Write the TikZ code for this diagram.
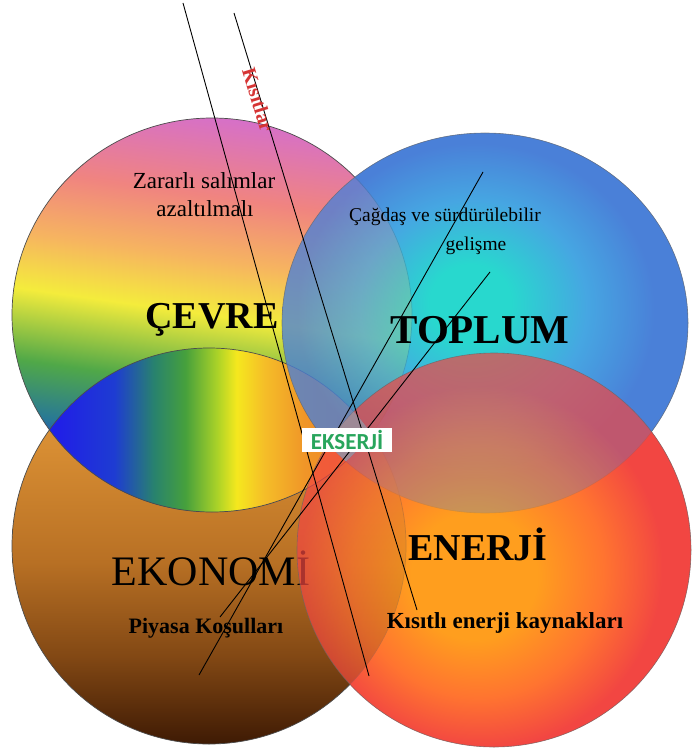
\documentclass[tikz,border=0pt]{standalone}
\usepackage{fontspec}
\setmainfont{Liberation Serif}
\newfontfamily\ekfont{Carlito}
\definecolor{cpink}{RGB}{214,112,200}
\definecolor{csalmon}{RGB}{240,132,128}
\definecolor{corange}{RGB}{246,180,96}
\definecolor{cyellow}{RGB}{244,236,60}
\definecolor{cgreen}{RGB}{80,168,72}
\definecolor{cteal}{RGB}{40,120,150}
\definecolor{cblue}{RGB}{32,40,224}
\definecolor{tcyan}{RGB}{40,216,206}
\definecolor{tmid}{RGB}{70,166,226}
\definecolor{tblue}{RGB}{74,128,216}
\definecolor{eorange}{RGB}{255,158,30}
\definecolor{emid}{RGB}{255,116,48}
\definecolor{ered}{RGB}{242,70,66}
\definecolor{kzero}{RGB}{232,162,74}
\definecolor{kone}{RGB}{214,140,50}
\definecolor{ktwo}{RGB}{184,112,36}
\definecolor{kthree}{RGB}{130,72,20}
\definecolor{kfour}{RGB}{62,26,4}
\definecolor{lblue}{RGB}{32,32,230}
\definecolor{lbluetwo}{RGB}{30,60,210}
\definecolor{lteal}{RGB}{40,130,110}
\definecolor{lgreen}{RGB}{70,160,60}
\definecolor{lyg}{RGB}{170,210,40}
\definecolor{lyellow}{RGB}{245,232,30}
\definecolor{lorgone}{RGB}{245,190,40}
\definecolor{lorgtwo}{RGB}{240,150,40}
\definecolor{lorgthree}{RGB}{240,120,30}
\definecolor{ekgreen}{RGB}{40,165,92}
\definecolor{kred}{RGB}{214,52,52}
\pgfdeclareverticalshading{cevresh}{100bp}{color(0bp)=(cblue); color(29bp)=(cblue); color(34bp)=(cteal); color(41bp)=(cgreen); color(50bp)=(cyellow); color(57bp)=(corange); color(65bp)=(csalmon); color(75bp)=(cpink); color(100bp)=(cpink)}
\pgfdeclareverticalshading{ekosh}{100bp}{color(0bp)=(kfour); color(25bp)=(kfour); color(36bp)=(kthree); color(48bp)=(ktwo); color(62bp)=(kone); color(75bp)=(kzero); color(100bp)=(kzero)}
\pgfdeclarehorizontalshading{lenssh}{100bp}{color(0bp)=(lblue); color(31bp)=(lblue); color(38bp)=(lbluetwo); color(43bp)=(lteal); color(47bp)=(lgreen); color(51bp)=(lyg); color(53.5bp)=(lyellow); color(57bp)=(lorgone); color(62bp)=(lorgtwo); color(72bp)=(lorgthree); color(100bp)=(lorgthree)}
\pgfdeclareradialshading{toplumsh}{\pgfpoint{-2bp}{3bp}}{color(0bp)=(tcyan); color(5bp)=(tcyan); color(14bp)=(tmid); color(22bp)=(tblue); color(50bp)=(tblue)}
\pgfdeclareradialshading{enerjish}{\pgfpoint{-3bp}{-4bp}}{color(0bp)=(eorange); color(8bp)=(eorange); color(16bp)=(emid); color(23bp)=(ered); color(50bp)=(ered)}
\begin{document}
\begin{tikzpicture}[x=1pt,y=-1pt,
  ring/.style={draw=black!70, line width=0.7pt},
  softring/.style={draw=black!60, line width=0.6pt, draw opacity=0.7},
  cut/.style={draw=black, line width=0.9pt},
  lbl/.style={font=\fontsize{#1}{#1}\selectfont, inner sep=0pt, anchor=base},
  blbl/.style={font=\fontsize{#1}{#1}\selectfont\bfseries, inner sep=0pt, anchor=base}]
\useasboundingbox (0,0) rectangle (692,751);
\fill[white] (0,0) rectangle (692,751);
% opaque underlays so that colours stay full over the white page
\shade[shading=enerjish] (494,550) ellipse [x radius=197, y radius=197];
\shade[shading=toplumsh] (485,323) ellipse [x radius=203, y radius=190];
% EKONOMI
\shade[shading=ekosh] (209,546) ellipse [x radius=197, y radius=198];
% CEVRE
\shade[shading=cevresh, shading angle=-8] (212,315) ellipse [x radius=200, y radius=197];
% lens
\begin{scope}
  \clip (212,315) ellipse [x radius=200, y radius=197];
  \shade[shading=lenssh] (209,546) ellipse [x radius=197, y radius=198];
\end{scope}
\draw[ring] (209,546) ellipse [x radius=197, y radius=198];
\draw[ring] (212,315) ellipse [x radius=200, y radius=197];
\node[lbl=42] (ekonomi) at (211,585) {EKONOMİ};
% TOPLUM
\shade[shading=toplumsh, fill opacity=0.78] (485,323) ellipse [x radius=203, y radius=190];
\draw[softring] (485,323) ellipse [x radius=203, y radius=190];
% ENERJI
\shade[shading=enerjish, fill opacity=0.7] (494,550) ellipse [x radius=197, y radius=197];
\draw[softring] (494,550) ellipse [x radius=197, y radius=197];
% centre
\begin{scope}
  \clip (212,315) ellipse [x radius=200, y radius=197];
  \clip (209,546) ellipse [x radius=197, y radius=198];
  \clip (485,323) ellipse [x radius=203, y radius=190];
  \fill[fill={rgb,255:red,150;green,146;blue,160}, fill opacity=0.85] (494,550) ellipse [x radius=197, y radius=197];
\end{scope}
% texts
\node[lbl=23] (zar1) at (204,189) {Zararlı salımlar};
\node[lbl=23] (zar2) at (205,217) {azaltılmalı};
\node[blbl=38] (cevre) at (212,328) {ÇEVRE};
\node[lbl=19.5] (cag1) at (445,222) {Çağdaş ve sürdürülebilir};
\node[lbl=19.5] (cag2) at (476,250) {gelişme};
\node[blbl=41] (toplum) at (480,343) {TOPLUM};
\node[blbl=38] (enerji) at (478,560) {ENERJİ};
\node[blbl=22] (piyasa) at (206,633) {Piyasa Koşulları};
\node[blbl=23] (kisitli) at (505,628) {Kısıtlı enerji kaynakları};
% lines
\coordinate (a1) at (183,3);
\coordinate (a2) at (369,676);
\coordinate (b1) at (234,13);
\coordinate (b2) at (417,610);
\coordinate (c1) at (483,172);
\coordinate (c2) at (199,675);
\coordinate (d1) at (490,272);
\coordinate (d2) at (220,617);
\draw[cut] (a1) -- (a2);
\draw[cut] (b1) -- (b2);
\draw[cut] (c1) -- (c2);
\draw[cut] (d1) -- (d2);
% labels on top
\node[fill=white, text=ekgreen, font=\ekfont\fontsize{23}{23}\selectfont\bfseries, minimum width=90pt, minimum height=24pt, inner sep=0pt] (ekserji) at (347,440) {EKSERJİ};
\node[text=kred, font=\fontsize{20}{20}\selectfont\bfseries, rotate=-73, inner sep=0pt] (kisitlar) at (258,100) {Kısıtlar};
\end{tikzpicture}
\end{document}
